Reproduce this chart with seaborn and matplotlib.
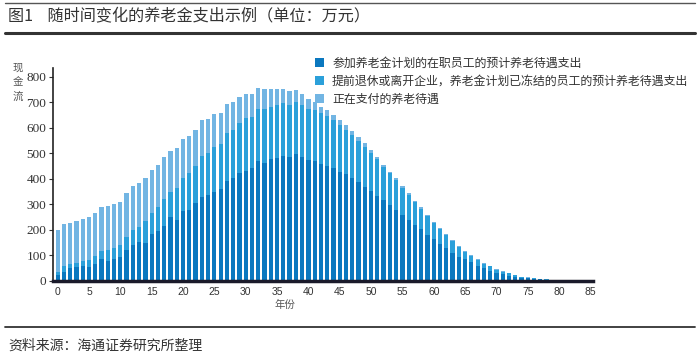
import numpy as np
import pandas as pd
import seaborn as sns
import matplotlib.pyplot as plt
from matplotlib.lines import Line2D
from matplotlib.patches import Patch

# %% Data

lst_years = list(range(86))

# 参加养老金计划的在职员工的预计养老待遇支出
lst_active = [24, 37, 51, 54, 59, 56, 68, 86, 80, 87,
              95, 121, 141, 153, 149, 185, 196, 217, 252, 239,
              275, 278, 304, 330, 338, 350, 360, 393, 405, 421,
              432, 441, 470, 463, 476, 483, 489, 484, 496, 487,
              474, 470, 458, 450, 441, 425, 418, 402, 386, 369,
              352, 333, 317, 296, 278, 257, 239, 218, 202, 181,
              164, 145, 128, 111, 95, 85, 73, 60, 49, 41,
              32, 27, 21, 17, 12, 10, 8, 6, 5, 3,
              3, 3, 3, 2, 2, 2]

# 提前退休或离开企业，养老金计划已冻结的员工的预计养老待遇支出
lst_deferred = [13, 22, 14, 15, 19, 26, 31, 33, 41, 43,
                46, 51, 59, 60, 86, 83, 94, 104, 98, 125,
                127, 143, 145, 161, 163, 176, 175, 188, 186, 199,
                206, 201, 203, 212, 207, 206, 207, 206, 203, 201,
                201, 199, 198, 196, 189, 186, 173, 170, 163, 157,
                150, 143, 128, 125, 117, 108, 99, 91, 81, 73,
                62, 57, 51, 46, 39, 30, 25, 22, 18, 16,
                13, 10, 9, 7, 4, 3, 3, 2, 2, 2,
                1, 1, 1, 1, 1, 1]

# 正在支付的养老待遇
lst_paying = [163, 164, 163, 165, 165, 167, 169, 169, 171, 170,
              170, 171, 172, 169, 168, 167, 165, 163, 160, 155,
              154, 148, 142, 139, 132, 126, 121, 114, 108, 100,
              95, 89, 82, 75, 70, 64, 57, 53, 47, 44,
              39, 30, 26, 23, 20, 19, 18, 17, 16, 13,
              11, 11, 9, 7, 7, 7, 5, 6, 5, 4,
              4, 4, 4, 3, 4, 4, 4, 3, 3, 2,
              2, 2, 1, 1, 1, 1, 1, 1, 1, 0,
              0, 0, 0, 0, 0, 0]

lst_names = ['参加养老金计划的在职员工的预计养老待遇支出',
             '提前退休或离开企业，养老金计划已冻结的员工的预计养老待遇支出',
             '正在支付的养老待遇']

lst_colors = ['#0b78bf', '#2ba0da', '#72b5e3']

str_title = '图1    随时间变化的养老金支出示例（单位：万元）'
str_source = '资料来源：海通证券研究所整理'

# %% Build stacked tops

df = pd.DataFrame({'year': lst_years,
                   'active': lst_active,
                   'deferred': lst_deferred,
                   'paying': lst_paying})
df['top_mid'] = df['active'] + df['deferred']
df['top_all'] = df['top_mid'] + df['paying']

# %% Plot

sns.set_theme(style='white')
plt.rcParams['font.family'] = ['Noto Sans CJK SC', 'DejaVu Sans']

fig = plt.figure(figsize=(7, 3.57), dpi=100)
ax = fig.add_axes([0.0761, 0.2129, 0.771, 0.5966])

for str_col, str_color in zip(['top_all', 'top_mid', 'active'],
                              lst_colors[::-1]):
    sns.barplot(data=df, x='year', y=str_col, color=str_color,
                saturation=1, width=0.68, linewidth=0, ax=ax)

ax.set_xlim(-0.7, 85.4)
ax.set_ylim(0, 834)
ax.set_yticks(np.arange(0, 801, 100))
ax.set_xticks(np.arange(0, 86, 5))
ax.set_xticklabels([str(v) for v in range(0, 86, 5)],
                   family='Liberation Sans', fontsize=7.5, color='#333333')
ax.set_yticklabels([str(v) for v in range(0, 801, 100)],
                   family='Liberation Serif', fontsize=9.5, color='#333333')
ax.tick_params(axis='y', length=3, width=0.8, color='#333333', pad=2,
               left=True)
ax.tick_params(axis='x', length=0, pad=4)
ax.set_xlabel('')
ax.set_ylabel('')

for str_side in ['top', 'right']:
    ax.spines[str_side].set_visible(False)
ax.spines['left'].set_color('#222222')
ax.spines['left'].set_linewidth(1.2)
ax.spines['bottom'].set_color('#1a1a2a')
ax.spines['bottom'].set_linewidth(2.5)

# axis labels
fig.text(285 / 700, 1 - 305 / 357, '年份', ha='center', va='center',
         fontsize=7.5, color='#555555')
fig.text(18 / 700, 1 - 82 / 357, '现\n金\n流', ha='center', va='center',
         fontsize=7.5, color='#555555', linespacing=1.55)

# legend
lst_handles = [Patch(facecolor=c, edgecolor='none') for c in lst_colors]
fig.legend(lst_handles, lst_names, loc='upper left',
           bbox_to_anchor=(310 / 700, 1 - 52 / 357), frameon=False,
           fontsize=8.6, handlelength=0.75, handleheight=0.75,
           handletextpad=0.7, labelspacing=0.42, borderaxespad=0,
           labelcolor='#333333')

# title, rules and source
fig.text(8 / 700, 1 - 17 / 357, str_title, ha='left', va='center',
         fontsize=11.6, color='#333333')
fig.text(8 / 700, 1 - 346 / 357, str_source, ha='left', va='center',
         fontsize=10, color='#333333')
fig.add_artist(Line2D([5 / 700, 695 / 700], [1 - 3 / 357, 1 - 3 / 357],
                      color='#555555', linewidth=1))
fig.add_artist(Line2D([5 / 700, 695 / 700], [1 - 33 / 357, 1 - 33 / 357],
                      color='#333333', linewidth=2.2))
fig.add_artist(Line2D([5 / 700, 695 / 700], [1 - 327 / 357, 1 - 327 / 357],
                      color='#333333', linewidth=1.3))

fig.savefig('out.png', dpi=100)
